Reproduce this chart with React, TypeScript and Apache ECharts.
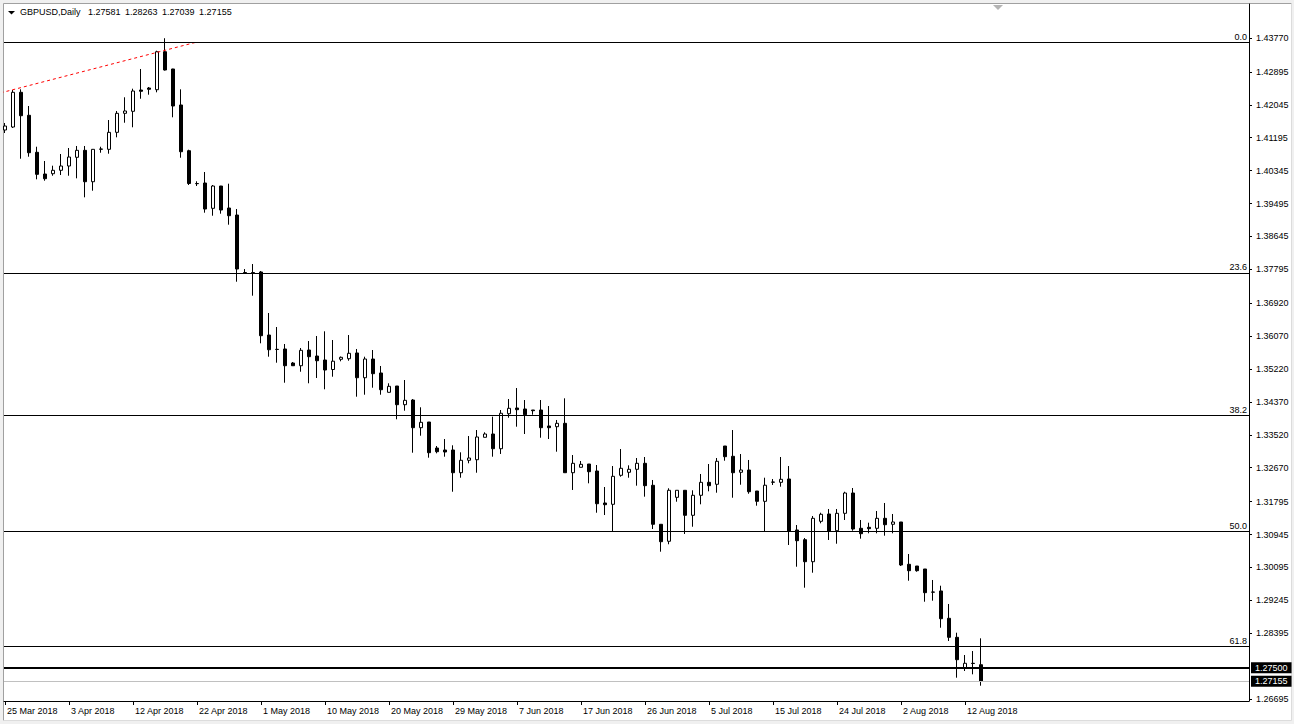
import React, { useEffect, useRef } from "react";
import * as echarts from "echarts";

const SYMBOL = "GBPUSD,Daily";
const HEADER_OHLC = ["1.27581", "1.28263", "1.27039", "1.27155"];

// Daily bars, index 0 = 25 Mar 2018 (Sun) ... index 122 = 14 Aug 2018
const OPEN = [
  1.41394, 1.41471, 1.42368, 1.41774, 1.40818, 1.40257, 1.40265, 1.40353, 1.40464, 1.40689,
  1.40869, 1.40058, 1.40903, 1.40895, 1.41334, 1.41825, 1.41877, 1.42427, 1.42479, 1.42435,
  1.43416, 1.4297, 1.4204, 1.40859, 1.40012, 1.40025, 1.39371, 1.39947, 1.39379, 1.39198,
  1.37713, 1.37713, 1.37726, 1.36098, 1.35729, 1.35737, 1.35375, 1.35305, 1.35711, 1.35556,
  1.35453, 1.35207, 1.35471, 1.35486, 1.35634, 1.34995, 1.35478, 1.35117, 1.34618, 1.34781,
  1.34298, 1.34419, 1.33704, 1.33851, 1.33179, 1.33128, 1.33128, 1.32541, 1.32862, 1.32877,
  1.33456, 1.33541, 1.33161, 1.34065, 1.34213, 1.34187, 1.34161, 1.34161, 1.33748, 1.3373,
  1.33817, 1.32541, 1.32681, 1.32766, 1.32585, 1.31759, 1.31725, 1.32474, 1.32552, 1.32629,
  1.32784, 1.32216, 1.31209, 1.3077, 1.31905, 1.32087, 1.31441, 1.31958, 1.32293, 1.32242,
  1.33231, 1.32965, 1.32552, 1.32611, 1.32068, 1.31802, 1.32301, 1.32293, 1.32379, 1.31062,
  1.30811, 1.30242, 1.31286, 1.31475, 1.31043, 1.31492, 1.32017, 1.31105, 1.31131, 1.31105,
  1.31363, 1.31209, 1.31268, 1.30175, 1.30131, 1.30054, 1.2946, 1.29486, 1.2878, 1.28289,
  1.27504, 1.27618, 1.27581,
];
const HIGH = [
  1.41575, 1.42427, 1.42445, 1.42014, 1.40962, 1.40593, 1.40472, 1.40774, 1.40929, 1.40981,
  1.40981, 1.40903, 1.40962, 1.41652, 1.41885, 1.42239, 1.42461, 1.4297, 1.42505, 1.43442,
  1.43765, 1.42975, 1.42445, 1.40885, 1.40069, 1.40309, 1.39973, 1.3995, 1.40007, 1.39353,
  1.37803, 1.37932, 1.37752, 1.36667, 1.36305, 1.35866, 1.35401, 1.35763, 1.35943, 1.36073,
  1.36194, 1.35969, 1.35543, 1.36098, 1.35737, 1.35538, 1.35711, 1.35298, 1.34851, 1.34781,
  1.34936, 1.34445, 1.34231, 1.33851, 1.33231, 1.33412, 1.33249, 1.33068, 1.33489, 1.33644,
  1.33585, 1.33988, 1.34161, 1.34445, 1.34729, 1.34419, 1.34161, 1.34419, 1.34264, 1.33903,
  1.34463, 1.32998, 1.32844, 1.32766, 1.3274, 1.32172, 1.32714, 1.33153, 1.32732, 1.32921,
  1.32947, 1.32353, 1.31209, 1.32139, 1.32087, 1.32087, 1.32087, 1.32508, 1.32766, 1.32921,
  1.33231, 1.33644, 1.33024, 1.3287, 1.32068, 1.32412, 1.32379, 1.32947, 1.32714, 1.3119,
  1.30855, 1.31423, 1.31508, 1.31604, 1.31604, 1.3205, 1.32146, 1.3132, 1.3125, 1.31552,
  1.31759, 1.31475, 1.31268, 1.30441, 1.30131, 1.30054, 1.2977, 1.29622, 1.2915, 1.28408,
  1.27832, 1.27935, 1.28263,
];
const LOW = [
  1.41316, 1.41446, 1.40652, 1.40704, 1.4012, 1.40084, 1.40213, 1.40231, 1.40213, 1.40146,
  1.39655, 1.39826, 1.40807, 1.40782, 1.41205, 1.41582, 1.41464, 1.42202, 1.42306, 1.42368,
  1.42931, 1.41722, 1.40678, 1.39973, 1.39947, 1.39258, 1.3918, 1.39232, 1.38948, 1.37475,
  1.37692, 1.37114, 1.35884, 1.35538, 1.35383, 1.34866, 1.35297, 1.3515, 1.34851, 1.34988,
  1.34696, 1.35021, 1.35419, 1.35434, 1.34505, 1.34556, 1.34737, 1.34556, 1.34613, 1.33921,
  1.34143, 1.33058, 1.33497, 1.32929, 1.33042, 1.32955, 1.3205, 1.32412, 1.32784, 1.32541,
  1.33456, 1.32955, 1.33025, 1.33962, 1.3373, 1.33541, 1.3404, 1.33445, 1.33412, 1.33084,
  1.32541, 1.32095, 1.32681, 1.32267, 1.31508, 1.31448, 1.31035, 1.32438, 1.32412, 1.32206,
  1.31922, 1.31087, 1.30501, 1.30692, 1.31792, 1.30958, 1.31146, 1.31725, 1.32061, 1.32025,
  1.32851, 1.31895, 1.32231, 1.31998, 1.31689, 1.31035, 1.32224, 1.3218, 1.30674, 1.30113,
  1.29571, 1.29958, 1.31234, 1.30803, 1.30707, 1.3132, 1.31043, 1.30837, 1.30976, 1.30976,
  1.30914, 1.30976, 1.30131, 1.29751, 1.29984, 1.29209, 1.29235, 1.28537, 1.28194, 1.27246,
  1.27419, 1.27333, 1.27039,
];
const CLOSE = [
  1.41497, 1.42368, 1.41763, 1.40807, 1.40249, 1.40136, 1.40353, 1.40464, 1.40696, 1.40869,
  1.40058, 1.40895, 1.40898, 1.41334, 1.41825, 1.41885, 1.42401, 1.42394, 1.42445, 1.43416,
  1.42944, 1.42014, 1.40833, 1.40012, 1.40007, 1.39353, 1.39947, 1.39327, 1.3918, 1.37803,
  1.37708, 1.37705, 1.3608, 1.35718, 1.35724, 1.35305, 1.35305, 1.35703, 1.35538, 1.35434,
  1.35194, 1.35422, 1.35522, 1.35626, 1.34995, 1.35478, 1.35099, 1.34685, 1.34773, 1.34298,
  1.34411, 1.33704, 1.33843, 1.33058, 1.33084, 1.33076, 1.32541, 1.32862, 1.32921, 1.33464,
  1.33541, 1.33161, 1.34076, 1.34205, 1.34169, 1.3404, 1.34143, 1.33704, 1.33704, 1.33817,
  1.32541, 1.32784, 1.32758, 1.32567, 1.3174, 1.31715, 1.32448, 1.32655, 1.32629, 1.32784,
  1.32206, 1.31209, 1.30759, 1.32087, 1.32087, 1.31441, 1.31958, 1.32293, 1.32206, 1.32836,
  1.32955, 1.32541, 1.32611, 1.3205, 1.31802, 1.32218, 1.32296, 1.32371, 1.31035, 1.30785,
  1.30242, 1.31363, 1.31467, 1.31035, 1.31492, 1.32017, 1.31087, 1.30966, 1.31095, 1.31363,
  1.31198, 1.31268, 1.30157, 1.3001, 1.3001, 1.29442, 1.29455, 1.2877, 1.28289, 1.27711,
  1.27618, 1.27613, 1.27155,
];

const X_LABELS = [
  "25 Mar 2018", "3 Apr 2018", "12 Apr 2018", "22 Apr 2018", "1 May 2018", "10 May 2018",
  "20 May 2018", "29 May 2018", "7 Jun 2018", "17 Jun 2018", "26 Jun 2018", "5 Jul 2018",
  "15 Jul 2018", "24 Jul 2018", "2 Aug 2018", "12 Aug 2018",
];
const BARS_PER_LABEL = 8;

const Y_LABELS = [
  1.4377, 1.42895, 1.42045, 1.41195, 1.40345, 1.39495, 1.38645, 1.37795, 1.3692, 1.3607,
  1.3522, 1.3437, 1.3352, 1.3267, 1.31795, 1.30945, 1.30095, 1.29245, 1.28395, 1.26695,
];

const FIB_HIGH = 1.4366;
const FIB_LOW = 1.1841;
const FIB_LEVELS = [0, 23.6, 38.2, 50.0, 61.8];

const HLINE_PRICE = 1.275;
const BID_PRICE = 1.27155;

const TREND = [
  [-2, 1.42275],
  [23.75, 1.43654],
];

const FONT = '"Liberation Sans", Arial, sans-serif';

export default function App() {
  const ref = useRef<HTMLDivElement>(null);

  useEffect(() => {
    document.body.style.margin = "0";
    document.body.style.overflow = "hidden";
    const chart = echarts.init(ref.current as HTMLDivElement, null, { renderer: "svg" });

    const candles = OPEN.map((o, i) => [i, o, CLOSE[i], LOW[i], HIGH[i]]);
    const xTicks = X_LABELS.map((_, k) => k * BARS_PER_LABEL);

    const fibLines = FIB_LEVELS.map((lvl) => ({
      name: lvl.toFixed(1),
      yAxis: FIB_HIGH - (lvl / 100) * (FIB_HIGH - FIB_LOW),
      lineStyle: { color: "#000000", width: 1, type: "solid" },
      label: {
        show: true,
        position: "insideEndTop",
        formatter: "{b}",
        color: "#000000",
        fontSize: 9,
        fontFamily: FONT,
        distance: [2, 1],
      },
    }));

    const priceLine = (v: number, color: string, width: number) => ({
      name: v.toFixed(5),
      yAxis: v,
      lineStyle: { color, width, type: "solid" },
      label: {
        show: true,
        position: "end",
        formatter: "{b}",
        color: "#ffffff",
        backgroundColor: "#000000",
        padding: [1, 4, 1, 4],
        fontSize: 9,
        fontFamily: FONT,
        distance: 2,
      },
    });

    chart.setOption({
      animation: false,
      backgroundColor: "transparent",
      title: {
        left: 20,
        top: 7,
        padding: 0,
        text:
          `{a|${SYMBOL}}` + HEADER_OHLC.map((v) => `{b|${v}}`).join(""),
        textStyle: {
          fontSize: 9,
          fontWeight: "normal",
          fontFamily: FONT,
          color: "#000000",
          rich: {
            a: { fontSize: 9, fontFamily: FONT, color: "#000000", padding: [0, 3, 0, 0] },
            b: { fontSize: 9, fontFamily: FONT, color: "#000000", padding: [0, 0, 0, 4.5] },
          },
        },
      },
      graphic: [
        {
          type: "rect",
          z: -10,
          silent: true,
          shape: { x: 4, y: 4, width: 1287, height: 716 },
          style: { fill: "#ffffff" },
        },
        {
          type: "polyline",
          z: -9,
          silent: true,
          shape: { points: [[3.5, 720.5], [3.5, 3.5], [1291.5, 3.5]] },
          style: { stroke: "#a0a0a0", fill: "none", lineWidth: 1 },
        },
        {
          type: "polyline",
          z: -9,
          silent: true,
          shape: { points: [[1291.5, 3.5], [1291.5, 720.5], [3.5, 720.5]] },
          style: { stroke: "#dcdcdc", fill: "none", lineWidth: 1 },
        },
        {
          type: "polygon",
          silent: true,
          shape: { points: [[8, 11], [15, 11], [11.5, 14.5]] },
          style: { fill: "#000000" },
        },
        {
          type: "polygon",
          silent: true,
          shape: { points: [[993, 5], [1003, 5], [998, 10]] },
          style: { fill: "#b4b4b4" },
        },
      ],
      grid: { left: 4, right: 45, top: 4, bottom: 23, show: false },
      xAxis: {
        type: "value",
        min: -0.125,
        max: 155.5,
        position: "bottom",
        axisLine: { show: true, onZero: false, lineStyle: { color: "#000000", width: 1 } },
        axisTick: {
          show: true,
          customValues: xTicks,
          length: 4,
          lineStyle: { color: "#000000", width: 1 },
        },
        axisLabel: {
          show: true,
          customValues: xTicks,
          formatter: (v: number) => X_LABELS[Math.round(v / BARS_PER_LABEL)] ?? "",
          align: "left",
          margin: 5,
          padding: [0, 0, 0, 2],
          color: "#000000",
          fontSize: 9,
          fontFamily: FONT,
        },
        splitLine: { show: false },
      },
      yAxis: {
        type: "value",
        position: "right",
        min: 1.26644,
        max: 1.44649,
        axisLine: { show: true, onZero: false, lineStyle: { color: "#000000", width: 1 } },
        axisTick: {
          show: true,
          customValues: Y_LABELS,
          length: 3,
          lineStyle: { color: "#000000", width: 1 },
        },
        axisLabel: {
          show: true,
          customValues: Y_LABELS,
          formatter: (v: number) => v.toFixed(5),
          margin: 7,
          color: "#000000",
          fontSize: 9,
          fontFamily: FONT,
        },
        splitLine: { show: false },
      },
      series: [
        {
          type: "candlestick",
          name: SYMBOL,
          data: candles,
          barWidth: 4,
          clip: true,
          silent: true,
          itemStyle: {
            color: "#ffffff",
            color0: "#000000",
            borderColor: "#000000",
            borderColor0: "#000000",
            borderColorDoji: "#000000",
            borderWidth: 1,
          },
          emphasis: { disabled: true },
          markLine: {
            silent: true,
            animation: false,
            precision: 5,
            symbol: ["none", "none"],
            data: [
              ...fibLines,
              priceLine(HLINE_PRICE, "#000000", 2),
              priceLine(BID_PRICE, "#c0c0c0", 1),
            ],
          },
        },
        {
          type: "line",
          name: "trend",
          data: TREND,
          symbol: "none",
          silent: true,
          clip: true,
          z: 3,
          lineStyle: { color: "#ff0000", width: 1, type: [3, 3] },
        },
      ],
    });

    return () => chart.dispose();
  }, []);

  return <div ref={ref} style={{ width: 1294, height: 724, background: "#f0f0f0" }} />;
}
